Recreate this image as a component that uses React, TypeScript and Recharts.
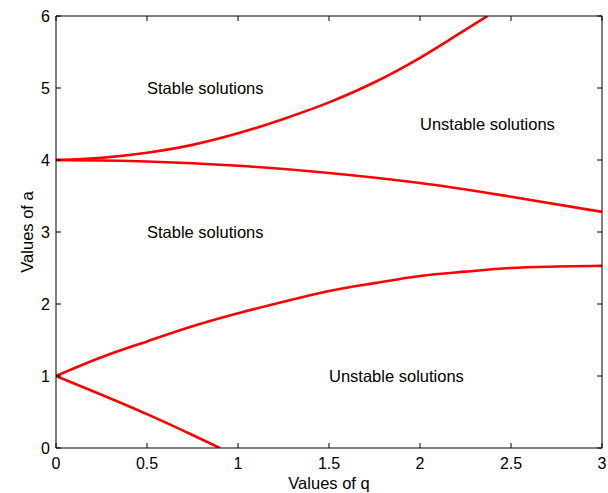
import { LineChart, Line, XAxis, YAxis, ReferenceDot } from 'recharts';

const FONT = '"Liberation Sans", Arial, Helvetica, sans-serif';

// stability boundaries, values (q, a)
const upperFromFour = [
  { q: 0, a: 4.0 },
  { q: 0.25, a: 4.03 },
  { q: 0.5, a: 4.1 },
  { q: 0.75, a: 4.21 },
  { q: 1, a: 4.37 },
  { q: 1.25, a: 4.57 },
  { q: 1.5, a: 4.8 },
  { q: 1.75, a: 5.08 },
  { q: 2, a: 5.42 },
  { q: 2.2, a: 5.73 },
  { q: 2.37, a: 6.0 },
];

const lowerFromFour = [
  { q: 0, a: 4.0 },
  { q: 0.5, a: 3.98 },
  { q: 1, a: 3.92 },
  { q: 1.5, a: 3.82 },
  { q: 2, a: 3.68 },
  { q: 2.5, a: 3.49 },
  { q: 3, a: 3.28 },
];

const upperFromOne = [
  { q: 0, a: 1.0 },
  { q: 0.25, a: 1.26 },
  { q: 0.5, a: 1.48 },
  { q: 0.75, a: 1.69 },
  { q: 1, a: 1.87 },
  { q: 1.25, a: 2.03 },
  { q: 1.5, a: 2.18 },
  { q: 1.75, a: 2.29 },
  { q: 2, a: 2.39 },
  { q: 2.25, a: 2.45 },
  { q: 2.5, a: 2.5 },
  { q: 2.75, a: 2.52 },
  { q: 3, a: 2.53 },
];

const lowerFromOne = [
  { q: 0, a: 1.0 },
  { q: 0.25, a: 0.74 },
  { q: 0.5, a: 0.47 },
  { q: 0.75, a: 0.18 },
  { q: 0.9, a: 0 },
];

const regionLabels = [
  { q: 0.5, a: 5, text: 'Stable solutions' },
  { q: 2, a: 4.5, text: 'Unstable solutions' },
  { q: 0.5, a: 3, text: 'Stable solutions' },
  { q: 1.5, a: 1, text: 'Unstable solutions' },
];

const qTicks = [0, 0.5, 1, 1.5, 2, 2.5, 3];
const aTicks = [0, 1, 2, 3, 4, 5, 6];

const TICK = 5;

const BottomTick = ({ x, y, payload }: any) => (
  <g>
    <line x1={x} y1={y} x2={x} y2={y - TICK} stroke="#000" />
    <text x={x} y={y + 21} textAnchor="middle" fontSize={16} fontFamily={FONT} fill="#000">
      {payload.value}
    </text>
  </g>
);

const TopTick = ({ x, y }: any) => <line x1={x} y1={y} x2={x} y2={y + TICK} stroke="#000" />;

const LeftTick = ({ x, y, payload }: any) => (
  <g>
    <line x1={x} y1={y} x2={x + TICK} y2={y} stroke="#000" />
    <text x={x - 6} y={y + 6} textAnchor="end" fontSize={16} fontFamily={FONT} fill="#000">
      {payload.value}
    </text>
  </g>
);

const RightTick = ({ x, y }: any) => <line x1={x} y1={y} x2={x - TICK} y2={y} stroke="#000" />;

const YTitle = ({ viewBox }: any) => {
  const x = viewBox.x + 33;
  const y = 232;
  return (
    <text
      x={x}
      y={y}
      transform={`rotate(-90, ${x}, ${y})`}
      textAnchor="middle"
      fontSize={16.5}
      fontFamily={FONT}
      fill="#000"
    >
      Values of a
    </text>
  );
};

const XTitle = ({ viewBox }: any) => (
  <text
    x={viewBox.x + viewBox.width / 2}
    y={viewBox.y + 41}
    textAnchor="middle"
    fontSize={16.5}
    fontFamily={FONT}
    fill="#000"
  >
    Values of q
  </text>
);

const curves = [upperFromFour, lowerFromFour, upperFromOne, lowerFromOne];

export default function App() {
  return (
    <>
      <style>{'body { margin: 0; }'}</style>
      <LineChart width={608} height={493} margin={{ top: 15, right: 5, bottom: 0, left: 0 }}>
        <XAxis
          dataKey="q"
          type="number"
          domain={[0, 3]}
          ticks={qTicks}
          allowDataOverflow
          height={45}
          tickSize={0}
          tickMargin={0}
          tickLine={false}
          axisLine={{ stroke: '#000' }}
          tick={<BottomTick />}
          label={<XTitle />}
        />
        <XAxis
          xAxisId="top"
          orientation="top"
          dataKey="q"
          type="number"
          domain={[0, 3]}
          ticks={qTicks}
          allowDataOverflow
          height={1}
          tickSize={0}
          tickMargin={0}
          tickLine={false}
          axisLine={{ stroke: '#000' }}
          tick={<TopTick />}
        />
        <YAxis
          type="number"
          domain={[0, 6]}
          ticks={aTicks}
          allowDataOverflow
          width={56}
          tickSize={0}
          tickMargin={0}
          tickLine={false}
          axisLine={{ stroke: '#000' }}
          tick={<LeftTick />}
          label={<YTitle />}
        />
        <YAxis
          yAxisId="right"
          orientation="right"
          type="number"
          domain={[0, 6]}
          ticks={aTicks}
          allowDataOverflow
          width={1}
          tickSize={0}
          tickMargin={0}
          tickLine={false}
          axisLine={{ stroke: '#000' }}
          tick={<RightTick />}
        />
        {curves.map((d, i) => (
          <Line
            key={i}
            data={d}
            dataKey="a"
            type="monotone"
            stroke="#ff0000"
            strokeWidth={2.6}
            dot={false}
            activeDot={false}
            isAnimationActive={false}
          />
        ))}
        {regionLabels.map((r, i) => (
          <ReferenceDot
            key={'l' + i}
            x={r.q}
            y={r.a}
            r={0}
            fill="none"
            stroke="none"
            label={{
              value: r.text,
              position: 'right',
              offset: 0,
              fill: '#000',
              fontSize: 16.5,
              fontFamily: FONT,
            }}
          />
        ))}
      </LineChart>
    </>
  );
}
